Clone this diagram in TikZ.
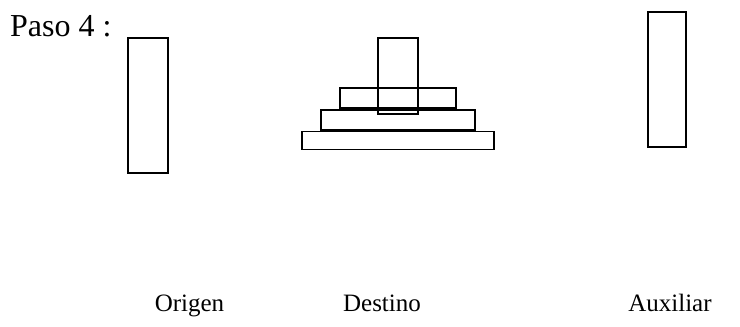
\documentclass[tikz,border=0pt]{standalone}
\usepackage{fontspec}
\setmainfont{Liberation Serif}
\usetikzlibrary{positioning}

\begin{document}
\begin{tikzpicture}[x=1pt,y=-1pt,
  peg/.style={draw,line width=1.7pt,minimum width=40pt,minimum height=135pt,inner sep=0pt},
  disk/.style={draw,line width=1.7pt,minimum height=20pt,inner sep=0pt},
  lbl/.style={font=\fontsize{25}{30}\selectfont,anchor=base,inner sep=0pt}]
\useasboundingbox (0,0) rectangle (740,327);
\node[font=\fontsize{32}{36}\selectfont,anchor=base west,inner sep=0pt] (titulo) at (10,36) {Paso 4 :};
% torres
\node[peg] (origen) at (148,105.5) {};
\node[peg,minimum height=76pt] (destino) at (398,76) {};
\node[peg,minimum width=38pt] (auxiliar) at (667,79.5) {};
% discos
\node[disk,minimum width=116pt] (d1) at (398,98) {};
\node[disk,minimum width=154pt,below=0pt of d1] (d2) {};
\node[disk,minimum width=192pt,minimum height=18pt,below=0pt of d2] (d3) {};
% etiquetas
\node[lbl] (lorigen) at (189.5,311) {Origen};
\node[lbl] (ldestino) at (382,311) {Destino};
\node[lbl] (lauxiliar) at (670,311) {Auxiliar};
\end{tikzpicture}
\end{document}
